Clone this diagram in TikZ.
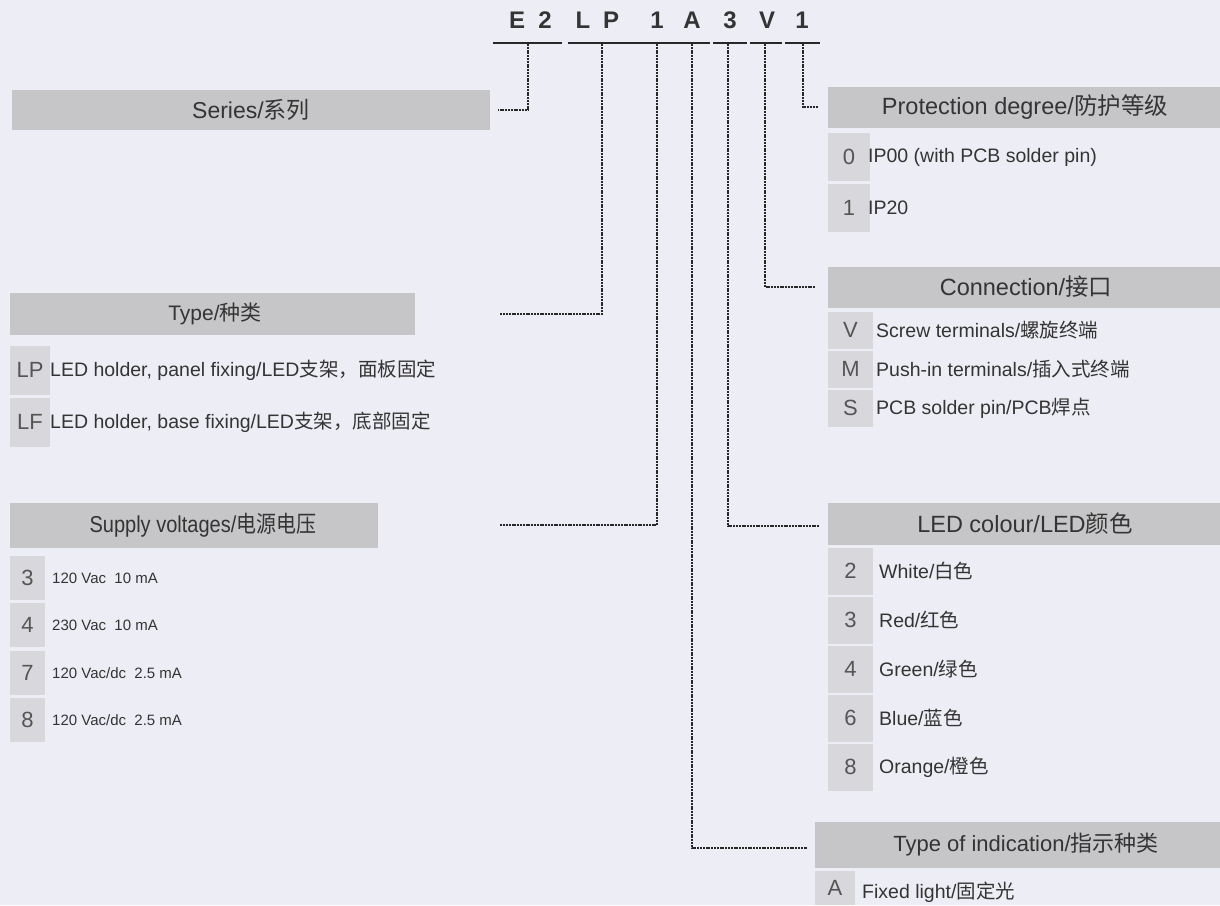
\documentclass[tikz,border=0pt]{standalone}
\usepackage{fontspec}
\setmainfont{Liberation Sans}
\newfontfamily\narrowsans[FakeStretch=0.87]{Liberation Sans}
\newfontfamily\cjk{Noto Sans CJK SC}
\newfontfamily\narrowcjk[FakeStretch=0.87]{Noto Sans CJK SC}
\newcommand\setfs[1]{\fontsize{#1}{#1}\selectfont}
\definecolor{bgc}{RGB}{237,237,245}
\definecolor{hdrc}{RGB}{198,198,200}
\definecolor{cellc}{RGB}{216,216,220}
\definecolor{ink}{RGB}{52,52,52}
\definecolor{codeink}{RGB}{85,85,85}
\definecolor{lineink}{RGB}{40,40,40}
\begin{document}
\begin{tikzpicture}[x=1pt,y=-1pt,
  hdr/.style={fill=hdrc, inner sep=0pt},
  hdrtxt/.style={inner sep=0pt, text=ink, font=\setfs{22}},
  cellbox/.style={fill=cellc, inner sep=0pt, text=codeink, font=\setfs{22}},
  rowtxt/.style={anchor=west, inner sep=0pt, text=ink, font=\setfs{19.5}},
  smalltxt/.style={rowtxt, font=\setfs{15}},
  topc/.style={font=\bfseries\setfs{24}, text=ink, inner sep=0pt},
  uline/.style={line width=2pt, draw=lineink},
  conn/.style={draw=lineink, line width=1.1pt, dash pattern=on 2pt off 0.8pt}]
\fill[bgc] (0,0) rectangle (1220,905);
\useasboundingbox (0,0) rectangle (1220,905);

% top code
\node[topc] (c1) at (517,20) {E};
\node[topc] (c2) at (545,20) {2};
\node[topc] (c3) at (583,20) {L};
\node[topc] (c4) at (611,20) {P};
\node[topc] (c5) at (657,20) {1};
\node[topc] (c6) at (692,20) {A};
\node[topc] (c7) at (730,20) {3};
\node[topc] (c8) at (767,20) {V};
\node[topc] (c9) at (802,20) {1};
\draw[uline] (493,43) -- (562,43);
\draw[uline] (568,43) -- (710,43);
\draw[uline] (713,43) -- (747,43);
\draw[uline] (750,43) -- (782,43);
\draw[uline] (785,43) -- (820,43);

% left headers
\node[hdr, minimum width=478pt, minimum height=40pt] (series) at (251,110) {};
\node[hdrtxt, font=\setfs{23}] (seriesT) at (251,110) {Series/{\cjk 系列}};
\node[hdr, minimum width=405pt, minimum height=42pt] (type) at (212.5,314) {};
\node[hdrtxt, font=\setfs{21}] (typeT) at (215,314) {Type/{\cjk 种类}};
\node[hdr, minimum width=368pt, minimum height=45pt] (supply) at (194,525) {};
\node[hdrtxt, font=\narrowsans\setfs{23}] (supplyT) at (203,525) {Supply voltages/{\narrowcjk 电源电压}};

% type rows
\node[cellbox, minimum width=40pt, minimum height=49pt] (lpC) at (30,370) {LP};
\node[rowtxt] (lpT) at (50,370) {LED holder, panel fixing/LED{\cjk 支架，面板固定}};
\node[cellbox, minimum width=40pt, minimum height=49pt] (lfC) at (30,422) {LF};
\node[rowtxt] (lfT) at (50,422) {LED holder, base fixing/LED{\cjk 支架，底部固定}};

% supply rows
\node[cellbox, minimum width=35pt, minimum height=44pt] (s3C) at (27.5,578) {3};
\node[smalltxt] (s3T) at (52,578) {120 Vac\ \ 10 mA};
\node[cellbox, minimum width=35pt, minimum height=44pt] (s4C) at (27.5,625) {4};
\node[smalltxt] (s4T) at (52,625) {230 Vac\ \ 10 mA};
\node[cellbox, minimum width=35pt, minimum height=44pt] (s7C) at (27.5,673) {7};
\node[smalltxt] (s7T) at (52,673) {120 Vac/dc\ \ 2.5 mA};
\node[cellbox, minimum width=35pt, minimum height=44pt] (s8C) at (27.5,720) {8};
\node[smalltxt] (s8T) at (52,720) {120 Vac/dc\ \ 2.5 mA};

% right headers
\node[hdr, minimum width=392pt, minimum height=41pt] (prot) at (1024,107) {};
\node[hdrtxt, font=\setfs{23.5}] (protT) at (1025,107) {Protection degree/{\cjk 防护等级}};
\node[hdr, minimum width=392pt, minimum height=41pt] (connx) at (1024,287) {};
\node[hdrtxt, font=\setfs{23.5}] (connxT) at (1026,287) {Connection/{\cjk 接口}};
\node[hdr, minimum width=392pt, minimum height=42pt] (colour) at (1024,524) {};
\node[hdrtxt, font=\setfs{23.5}] (colourT) at (1025,524) {LED colour/LED{\cjk 颜色}};
\node[hdr, minimum width=405pt, minimum height=46pt] (ind) at (1017.5,845) {};
\node[hdrtxt] (indT) at (1026,845) {Type of indication/{\cjk 指示种类}};

% protection rows
\node[cellbox, minimum width=42pt, minimum height=48pt] (p0C) at (849,157) {0};
\node[rowtxt] (p0T) at (868,157) {IP00 (with PCB solder pin)};
\node[cellbox, minimum width=42pt, minimum height=48pt] (p1C) at (849,208) {1};
\node[rowtxt] (p1T) at (868,208) {IP20};

% connection rows
\node[cellbox, minimum width=45pt, minimum height=37pt] (cvC) at (850.5,330) {V};
\node[rowtxt] (cvT) at (876,330) {Screw terminals/{\cjk 螺旋终端}};
\node[cellbox, minimum width=45pt, minimum height=37pt] (cmC) at (850.5,369) {M};
\node[rowtxt] (cmT) at (876,369) {Push-in terminals/{\cjk 插入式终端}};
\node[cellbox, minimum width=45pt, minimum height=37pt] (csC) at (850.5,408) {S};
\node[rowtxt] (csT) at (876,408) {PCB solder pin/PCB{\cjk 焊点}};

% colour rows
\node[cellbox, minimum width=45pt, minimum height=47pt] (k2C) at (850.5,571) {2};
\node[rowtxt] (k2T) at (879,571) {White/{\cjk 白色}};
\node[cellbox, minimum width=45pt, minimum height=47pt] (k3C) at (850.5,620) {3};
\node[rowtxt] (k3T) at (879,620) {Red/{\cjk 红色}};
\node[cellbox, minimum width=45pt, minimum height=47pt] (k4C) at (850.5,669) {4};
\node[rowtxt] (k4T) at (879,669) {Green/{\cjk 绿色}};
\node[cellbox, minimum width=45pt, minimum height=47pt] (k6C) at (850.5,718) {6};
\node[rowtxt] (k6T) at (879,718) {Blue/{\cjk 蓝色}};
\node[cellbox, minimum width=45pt, minimum height=47pt] (k8C) at (850.5,767) {8};
\node[rowtxt] (k8T) at (879,767) {Orange/{\cjk 橙色}};

% indication rows
\node[cellbox, minimum width=40pt, minimum height=34pt] (iaC) at (835,888) {A};
\node[rowtxt] (iaT) at (862,892) {Fixed light/{\cjk 固定光}};

% connectors
\coordinate (tE2) at (528,44);
\coordinate (tLP) at (602,44);
\coordinate (tV1) at (657,44);
\coordinate (tA)  at (692,44);
\coordinate (t3)  at (728,44);
\coordinate (tV)  at (765,44);
\coordinate (tP)  at (803,44);
\draw[conn] (tE2) |- ([xshift=8pt]series.east);
\draw[conn] (tLP) |- ([xshift=85pt]type.east);
\draw[conn] (tV1) |- ([xshift=122pt]supply.east);
\draw[conn] (tA)  |- ([xshift=-8pt,yshift=-3pt]ind.west);
\draw[conn] (t3)  |- ([xshift=-8pt,yshift=-2pt]colour.west);
\draw[conn] (tV)  |- ([xshift=-13pt]connx.west);
\draw[conn] (tP)  |- ([xshift=-10pt]prot.west);
\end{tikzpicture}
\end{document}
